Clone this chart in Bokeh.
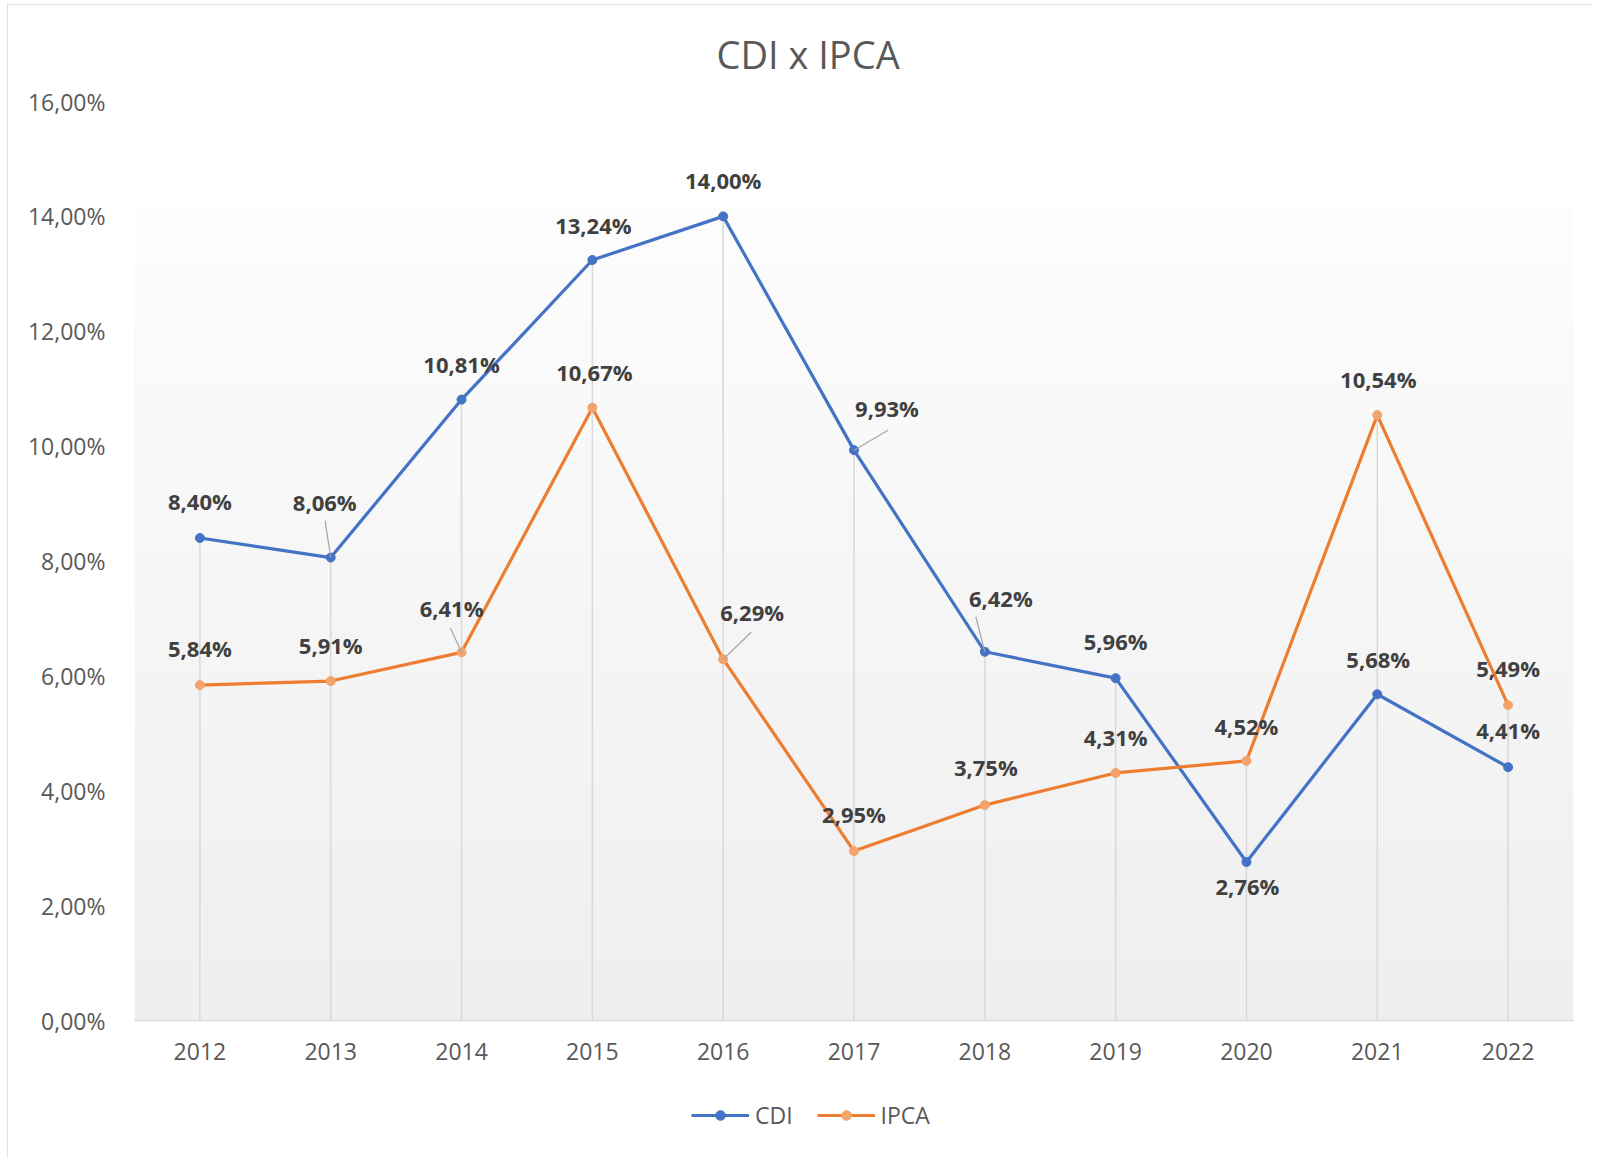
import numpy as np
from bokeh.plotting import figure
from bokeh.models import Range1d, FixedTicker, ColumnDataSource, Legend, LegendItem
from bokeh.core.properties import value
from bokeh.embed import file_html
from bokeh.resources import INLINE

# ---------------- data ----------------
YEARS = ["2012", "2013", "2014", "2015", "2016", "2017", "2018", "2019", "2020", "2021", "2022"]
CDI = [8.40, 8.06, 10.81, 13.24, 14.00, 9.93, 6.42, 5.96, 2.76, 5.68, 4.41]
IPCA = [5.84, 5.91, 6.41, 10.67, 6.29, 2.95, 3.75, 4.31, 4.52, 10.54, 5.49]
Y_TICKS = [0, 2, 4, 6, 8, 10, 12, 14, 16]
Y_TICK_LABELS = ["0,00%", "2,00%", "4,00%", "6,00%", "8,00%", "10,00%", "12,00%", "14,00%", "16,00%"]
TITLE = "CDI x IPCA"
SERIES_NAMES = ["CDI", "IPCA"]

# ---------------- style ----------------
W, H = 1586, 1154
ML, MR, MT, MB = 127, 20, 97, 0
AXIS_PAD = 138          # px between the 0% line and the bottom of the frame (room for labels + legend)
FONT = "Open Sans"
CDI_COLOR = "#4472C4"
IPCA_COLOR = "#ED7D31"
IPCA_MARKER = "#F3A46C"
LABEL_COLOR = "#404040"
AXIS_TEXT = "#595959"
GRAD_TOP = 14.19

# label offsets in screen px (dx, dy; dy positive = down)
CDI_LABEL_OFF = [(0, -37), (-6, -56), (0, -36), (1, -35), (0, -36), (33, -42),
                 (16, -54), (0, -37), (1, 24), (1, -35), (0, -37)]
IPCA_LABEL_OFF = [(0, -37), (0, -36), (-10, -44), (2, -36), (29, -47), (0, -37),
                  (1, -38), (0, -36), (0, -35), (1, -36), (0, -37)]
# leader lines: (series, index, start dx px, start dy px) relative to the point
LEADERS = [("CDI", 1, -5.6, -37), ("CDI", 5, 34, -20), ("CDI", 6, -9, -35),
           ("IPCA", 2, -11, -24), ("IPCA", 4, 28, -27)]

n = len(YEARS)
xs = list(range(n))
frame_w = W - ML - MR
frame_h = H - MT - MB - AXIS_PAD
px_per_x = frame_w / n
px_per_y = frame_h / 16.0
y_start = -AXIS_PAD / px_per_y


def fmt(v):
    return f"{v:.2f}%".replace(".", ",")


p = figure(width=W, height=H, x_range=Range1d(-0.5, n - 0.5), y_range=Range1d(y_start, 16),
           output_backend="svg", toolbar_location=None,
           min_border_left=ML, min_border_right=MR, min_border_top=MT, min_border_bottom=MB)
p.styles = {"outline": "2px solid #d9d9d9", "outline-offset": "-2px",
            "margin-left": "7px", "margin-top": "4px"}
p.background_fill_color = "white"
p.border_fill_color = "white"
p.outline_line_color = None
p.xgrid.visible = False
p.ygrid.visible = False

# title
p.title.text = TITLE
p.title.align = "left"
p.title.offset = 582
p.title.standoff = 43
p.title.text_font = FONT
p.title.text_font_size = "38px"
p.title.text_font_style = "normal"
p.title.text_color = AXIS_TEXT

# gradient background of plot area
rows = 256
t = np.linspace(0, 1, rows)
bot = np.array([239, 239, 239], dtype=float)
top = np.array([253, 253, 253], dtype=float)
img = np.zeros((rows, 1), dtype=np.uint32)
view = img.view(dtype=np.uint8).reshape((rows, 1, 4))
view[:, 0, 0:3] = (bot + (top - bot) * t[:, None]).astype(np.uint8)
view[:, 0, 3] = 255
p.image_rgba(image=[img], x=-0.5, y=0, dw=n, dh=GRAD_TOP)

# axes
p.xaxis.fixed_location = 0
p.xaxis.ticker = FixedTicker(ticks=xs)
p.xaxis.major_label_overrides = {i: y for i, y in enumerate(YEARS)}
p.xaxis.axis_line_color = "#d9d9d9"
p.xaxis.axis_line_width = 1.5
p.xaxis.major_tick_out = 0
p.xaxis.major_tick_in = 0
p.xaxis.minor_tick_out = 0
p.xaxis.minor_tick_in = 0
p.xaxis.major_label_standoff = 22
p.xaxis.major_label_text_font = FONT
p.xaxis.major_label_text_font_size = "23px"
p.xaxis.major_label_text_color = AXIS_TEXT

p.yaxis.ticker = FixedTicker(ticks=Y_TICKS)
p.yaxis.major_label_overrides = {t_: l for t_, l in zip(Y_TICKS, Y_TICK_LABELS)}
p.yaxis.axis_line_color = None
p.yaxis.major_tick_out = 0
p.yaxis.major_tick_in = 0
p.yaxis.minor_tick_out = 0
p.yaxis.minor_tick_in = 0
p.yaxis.major_label_standoff = 29
p.yaxis.major_label_text_font = FONT
p.yaxis.major_label_text_font_size = "23px"
p.yaxis.major_label_text_color = AXIS_TEXT

# drop lines
tops = [max(a, b) for a, b in zip(CDI, IPCA)]
p.segment(x0=xs, y0=[0] * n, x1=xs, y1=tops, line_color="#d9d9d9", line_width=1.5)

src = ColumnDataSource(dict(x=xs, cdi=CDI, ipca=IPCA))
cdi_line = p.line("x", "cdi", source=src, line_color=CDI_COLOR, line_width=3.2)
ipca_line = p.line("x", "ipca", source=src, line_color=IPCA_COLOR, line_width=3.2)
cdi_pts = p.scatter("x", "cdi", source=src, size=9, fill_color=CDI_COLOR, line_color=CDI_COLOR)
ipca_pts = p.scatter("x", "ipca", source=src, size=9, fill_color=IPCA_MARKER, line_color=IPCA_MARKER)

# leader lines
series = {"CDI": CDI, "IPCA": IPCA}
lx0, ly0, lx1, ly1 = [], [], [], []
for name, i, dx, dy in LEADERS:
    v = series[name][i]
    lx0.append(i + dx / px_per_x)
    ly0.append(v - dy / px_per_y)
    lx1.append(i)
    ly1.append(v)
p.segment(x0=lx0, y0=ly0, x1=lx1, y1=ly1, line_color="#a6a6a6", line_width=1.2)

# data labels
for vals, offs in ((CDI, CDI_LABEL_OFF), (IPCA, IPCA_LABEL_OFF)):
    p.text(x=xs, y=vals, text=[fmt(v) for v in vals],
           x_offset=[o[0] for o in offs], y_offset=[o[1] for o in offs],
           text_align="center", text_baseline="middle",
           text_font=value(FONT), text_font_size="22px", text_font_style="bold",
           text_color=LABEL_COLOR)

legend = Legend(items=[LegendItem(label=SERIES_NAMES[0], renderers=[cdi_line, cdi_pts]),
                       LegendItem(label=SERIES_NAMES[1], renderers=[ipca_line, ipca_pts])],
                orientation="horizontal", location=(557, 27),
                border_line_color=None, background_fill_alpha=0,
                label_text_font=FONT, label_text_font_size="23px", label_text_color=AXIS_TEXT,
                glyph_width=58, glyph_height=24, label_height=24, label_width=37,
                label_standoff=6, spacing=24, padding=0, margin=0)
p.add_layout(legend)

open("out.html", "w").write(file_html(p, INLINE))
